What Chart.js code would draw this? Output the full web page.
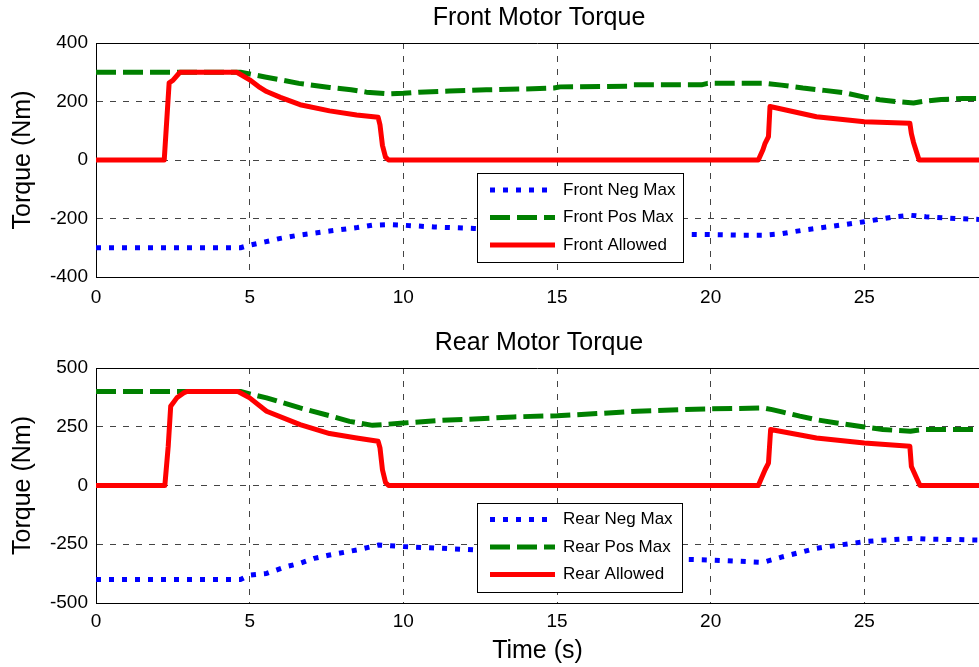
<!DOCTYPE html>
<html>
<head>
<meta charset="utf-8">
<script src="https://cdn.jsdelivr.net/npm/chart.js@4.4.0/dist/chart.umd.min.js"></script>
<style>
  html, body { margin: 0; padding: 0; background: #fff; }
  #wrap { position: relative; width: 979px; height: 667px; overflow: hidden; }
  canvas { position: absolute; left: 0; }
  #front { top: 0; }
  #rear { top: 320px; }
</style>
</head>
<body>
<div id="wrap">
  <canvas id="front" width="979" height="320"></canvas>
  <canvas id="rear" width="979" height="347"></canvas>
</div>
<script>
// --- data (time in s, torque in Nm) ---
const T_MAX = 28.73;
const xTicks = [0, 5, 10, 15, 20, 25];
const frontTicks = [-400, -200, 0, 200, 400];
const rearTicks = [-500, -250, 0, 250, 500];

const frontNegT = [0, 4.7, 5.0, 5.5, 6.0, 6.6, 7.6, 8.5, 9.0, 9.5, 10.0, 11.0, 12.3, 13.0, 14.0, 15.0, 16.0, 17.0, 18.0, 19.0, 20.0, 21.0, 21.7, 22.3, 23.0, 24.0, 25.0, 26.0, 26.5, 27.0, 28.0, 28.73];
const frontNegV = [-300, -300, -291, -280, -268, -257, -243, -231, -223, -221, -223, -229, -234, -237, -241, -245, -248, -250, -252, -254, -255, -257, -257, -252, -240, -226, -211, -194, -189, -194, -200, -203];

const frontPosT = [0, 4.7, 5.0, 5.5, 6.0, 6.6, 7.6, 8.3, 8.8, 9.5, 10.0, 10.5, 11.5, 12.7, 14.0, 14.9, 15.1, 17.3, 17.5, 19.7, 19.9, 21.8, 22.3, 23.0, 23.7, 24.4, 25.0, 25.5, 26.0, 26.6, 26.9, 27.5, 28.2, 28.73];
const frontPosV = [300, 300, 294, 284, 274, 262, 248, 240, 232, 226, 228, 232, 236, 240, 243, 246, 250, 252, 257, 257, 262, 262, 256, 246, 238, 229, 215, 206, 200, 195, 200, 207, 210, 210];

const frontAllowT = [0, 2.22, 2.38, 2.5, 2.73, 4.58, 5.0, 5.33, 5.55, 6.0, 6.64, 7.6, 8.48, 9.18, 9.24, 9.32, 9.42, 9.52, 21.55, 21.7, 21.77, 21.88, 21.93, 23.44, 25.0, 26.48, 26.53, 26.6, 26.78, 28.73];
const frontAllowV = [0, 0, 264, 272, 300, 300, 274, 248, 234, 214, 189, 168, 154, 146, 120, 50, 10, 0, 0, 35, 57, 80, 183, 148, 131, 126, 90, 60, 0, 0];

const rearNegT = [0, 4.7, 5.0, 5.55, 6.2, 6.64, 7.1, 7.6, 8.5, 9.2, 10.0, 11.2, 12.3, 13.0, 14.0, 15.0, 16.0, 17.0, 18.0, 19.1, 20.0, 21.7, 22.35, 22.9, 23.44, 24.1, 25.0, 25.6, 26.6, 27.0, 28.0, 28.73];
const rearNegV = [-400, -400, -381, -374, -345, -331, -310, -296, -274, -253, -260, -267, -274, -280, -287, -294, -300, -305, -310, -314, -317, -327, -303, -285, -267, -255, -239, -233, -225, -228, -230, -232];

const rearPosT = [0, 4.7, 5.0, 5.55, 6.64, 7.6, 8.25, 9.0, 10.0, 11.2, 12.3, 13.6, 15.0, 16.3, 17.6, 19.1, 20.0, 21.7, 22.0, 22.35, 22.9, 23.44, 24.1, 25.0, 25.6, 26.5, 26.9, 27.8, 28.73];
const rearPosV = [400, 400, 390, 373, 330, 297, 273, 256, 266, 277, 283, 292, 297, 306, 316, 323, 326, 330, 323, 312, 295, 280, 266, 249, 238, 231, 238, 238, 238];

const rearAllowT = [0, 2.24, 2.35, 2.43, 2.63, 2.85, 2.96, 4.62, 5.0, 5.55, 6.64, 7.6, 8.48, 9.18, 9.24, 9.32, 9.42, 9.52, 21.55, 21.77, 21.88, 21.95, 23.44, 25.0, 26.48, 26.53, 26.81, 28.73];
const rearAllowV = [0, 0, 167, 337, 373, 394, 400, 400, 373, 316, 259, 221, 202, 188, 160, 67, 13, 0, 0, 67, 95, 238, 202, 181, 167, 81, 0, 0];

const FONT = '"Liberation Sans", Arial, Helvetica, sans-serif';
Chart.defaults.font.family = FONT;
Chart.defaults.color = '#000';

function pts(t, v) {
  return t.map((x, i) => ({ x: x, y: v[i] }));
}

// titre, bordure haute et légende dessinés à la main
const framePlugin = {
  id: 'frame',
  afterDraw(chart, args, o) {
    const { ctx, chartArea: a } = chart;
    ctx.save();
    ctx.strokeStyle = '#000';
    ctx.lineWidth = 1;
    ctx.beginPath();
    ctx.moveTo(a.left, Math.round(a.top) + 0.5);
    ctx.lineTo(a.right, Math.round(a.top) + 0.5);
    ctx.stroke();

    ctx.fillStyle = '#000';
    ctx.font = '25px ' + FONT;
    ctx.textAlign = 'center';
    ctx.textBaseline = 'middle';
    ctx.fillText(o.title, o.titleX, o.titleY);

    // légende
    const b = o.box;
    ctx.fillStyle = '#fff';
    ctx.fillRect(b.x, b.y, b.w, b.h);
    ctx.strokeStyle = '#000';
    ctx.lineWidth = 1;
    ctx.strokeRect(b.x + 0.5, b.y + 0.5, b.w, b.h);
    ctx.font = '17px ' + FONT;
    ctx.textAlign = 'left';
    chart.data.datasets.forEach((ds, i) => {
      const y = b.y + b.rows[i];
      ctx.save();
      ctx.strokeStyle = ds.borderColor;
      ctx.lineWidth = ds.borderWidth;
      ctx.setLineDash(ds.borderDash || []);
      ctx.beginPath();
      ctx.moveTo(b.x + 13, y);
      ctx.lineTo(b.x + 78, y);
      ctx.stroke();
      ctx.restore();
      ctx.fillStyle = '#000';
      ctx.fillText(ds.label, b.x + 86, y);
    });
    ctx.restore();
  }
};

function makeChart(id, cfg) {
  const ctx = document.getElementById(id).getContext('2d');
  return new Chart(ctx, {
    type: 'line',
    data: {
      datasets: [
        { label: cfg.names[0], data: cfg.neg, borderColor: '#0000ff', borderWidth: 5, borderDash: [5, 8], order: 3 },
        { label: cfg.names[1], data: cfg.pos, borderColor: '#008000', borderWidth: 5, borderDash: [20, 7], order: 2 },
        { label: cfg.names[2], data: cfg.allow, borderColor: '#ff0000', borderWidth: 5, order: 1 }
      ]
    },
    options: {
      responsive: false,
      animation: false,
      elements: { point: { radius: 0 }, line: { tension: 0, borderJoinStyle: 'round' } },
      layout: { padding: { top: cfg.padTop, left: 0, right: 0, bottom: 0 } },
      plugins: {
        legend: { display: false },
        tooltip: { enabled: false },
        frame: { title: cfg.title, titleX: 539, titleY: cfg.titleY, box: cfg.box }
      },
      scales: {
        x: {
          type: 'linear',
          min: 0,
          max: T_MAX,
          afterBuildTicks: s => { s.ticks = xTicks.map(v => ({ value: v })); },
          afterFit: s => { s.height = cfg.xHeight; },
          ticks: { font: { size: 19 }, color: '#000', padding: cfg.xPad, maxRotation: 0, autoSkip: false },
          grid: { color: '#444', lineWidth: 1, drawTicks: false },
          border: { display: true, color: '#000', width: 1, dash: [6, 7] },
          title: cfg.xTitle
            ? { display: true, text: cfg.xTitle, font: { size: 25 }, color: '#000', padding: { top: 0, bottom: 1 } }
            : { display: false }
        },
        y: {
          type: 'linear',
          min: cfg.yTicks[0],
          max: cfg.yTicks[cfg.yTicks.length - 1],
          afterBuildTicks: s => { s.ticks = cfg.yTicks.map(v => ({ value: v })); },
          afterFit: s => { s.width = 96; },
          ticks: { font: { size: 19 }, color: '#000', padding: 8 },
          grid: { color: '#444', lineWidth: 1, drawTicks: false },
          border: { display: true, color: '#000', width: 1, dash: [6, 7] },
          title: { display: true, text: 'Torque (Nm)', font: { size: 25 }, color: '#000', padding: { top: 8, bottom: 0 } }
        }
      }
    },
    plugins: [framePlugin]
  });
}

makeChart('front', {
  names: ['Front Neg Max', 'Front Pos Max', 'Front Allowed'],
  neg: pts(frontNegT, frontNegV),
  pos: pts(frontPosT, frontPosV),
  allow: pts(frontAllowT, frontAllowV),
  yTicks: frontTicks,
  title: 'Front Motor Torque',
  titleY: 18,
  padTop: 43,
  xHeight: 43,
  xPad: 9,
  box: { x: 477, y: 173, w: 206, h: 89, rows: [17, 44.5, 72] }
});

makeChart('rear', {
  names: ['Rear Neg Max', 'Rear Pos Max', 'Rear Allowed'],
  neg: pts(rearNegT, rearNegV),
  pos: pts(rearPosT, rearPosV),
  allow: pts(rearAllowT, rearAllowV),
  yTicks: rearTicks,
  title: 'Rear Motor Torque',
  titleY: 23,
  padTop: 48,
  xHeight: 64,
  xPad: 7,
  xTitle: 'Time (s)',
  box: { x: 477, y: 183, w: 205, h: 89, rows: [16.5, 44, 71.5] }
});
</script>
</body>
</html>
